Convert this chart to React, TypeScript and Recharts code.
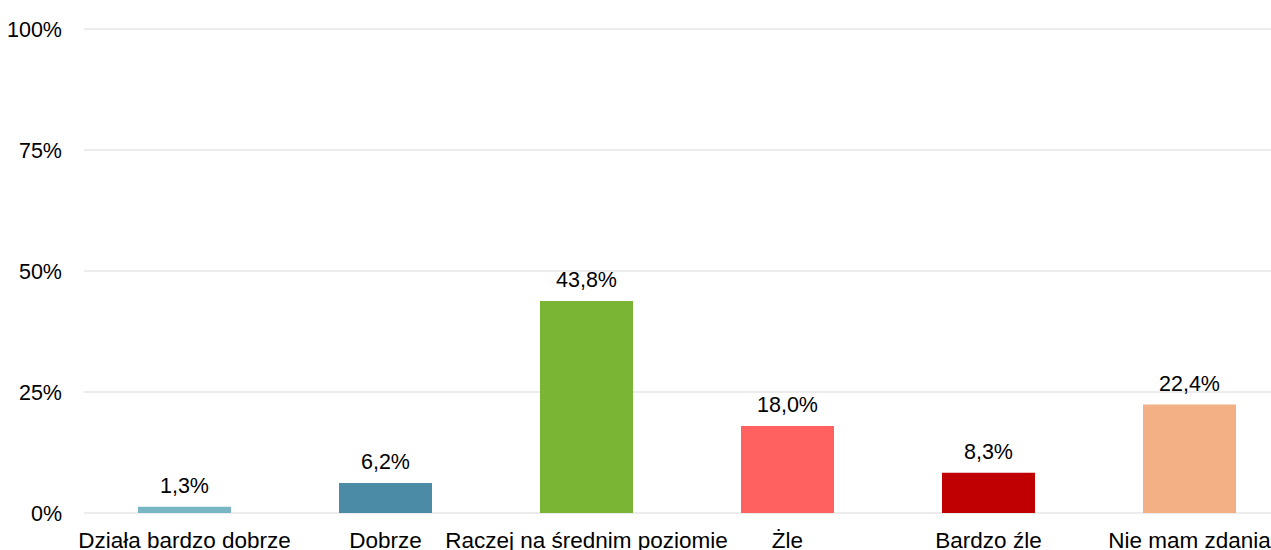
import React from "react";
import { Bar, BarChart, CartesianGrid, Cell, LabelList, XAxis, YAxis } from "recharts";

const categories = [
  "Działa bardzo dobrze",
  "Dobrze",
  "Raczej na średnim poziomie",
  "Żle",
  "Bardzo źle",
  "Nie mam zdania",
];
const shares = [1.3, 6.2, 43.8, 18.0, 8.3, 22.4];
const barColors = ["#79B6C4", "#4B8BA5", "#7AB533", "#FF6161", "#C00000", "#F2B084"];
const yTicks = [0, 25, 50, 75, 100];

const data = categories.map((name, i) => ({ name, value: shares[i] }));

const font = "'Liberation Sans', Arial, Helvetica, sans-serif";

export default function App() {
  return (
    <div
      style={{
        position: "fixed",
        top: 0,
        left: 0,
        width: 1271,
        height: 550,
        overflow: "hidden",
        background: "#fff",
      }}
    >
      <BarChart
        width={1300}
        height={550}
        data={data}
        margin={{ top: 29, right: 10, bottom: 0, left: 0 }}
        style={{ fontFamily: font }}
      >
        <CartesianGrid vertical={false} stroke="#D9D9D9" strokeWidth={1} />
        <XAxis
          dataKey="name"
          height={37}
          interval={0}
          axisLine={false}
          tickLine={false}
          tickSize={0}
          tickMargin={19}
          tick={{ fill: "#000", fontSize: 22.5, fontFamily: font }}
        />
        <YAxis
          width={84}
          domain={[0, 100]}
          ticks={yTicks}
          axisLine={false}
          tickLine={false}
          tickSize={0}
          tickMargin={22}
          tickFormatter={(v) => `${v}%`}
          tick={{ fill: "#000", fontSize: 21.5, fontFamily: font }}
        />
        <Bar dataKey="value" barSize={93} isAnimationActive={false}>
          {data.map((d, i) => (
            <Cell key={d.name} fill={barColors[i]} />
          ))}
          <LabelList
            dataKey="value"
            position="top"
            offset={14}
            formatter={(v: number) => `${Number(v).toFixed(1).replace(".", ",")}%`}
            style={{ fill: "#000", fontSize: 21.5, fontFamily: font }}
          />
        </Bar>
      </BarChart>
    </div>
  );
}
